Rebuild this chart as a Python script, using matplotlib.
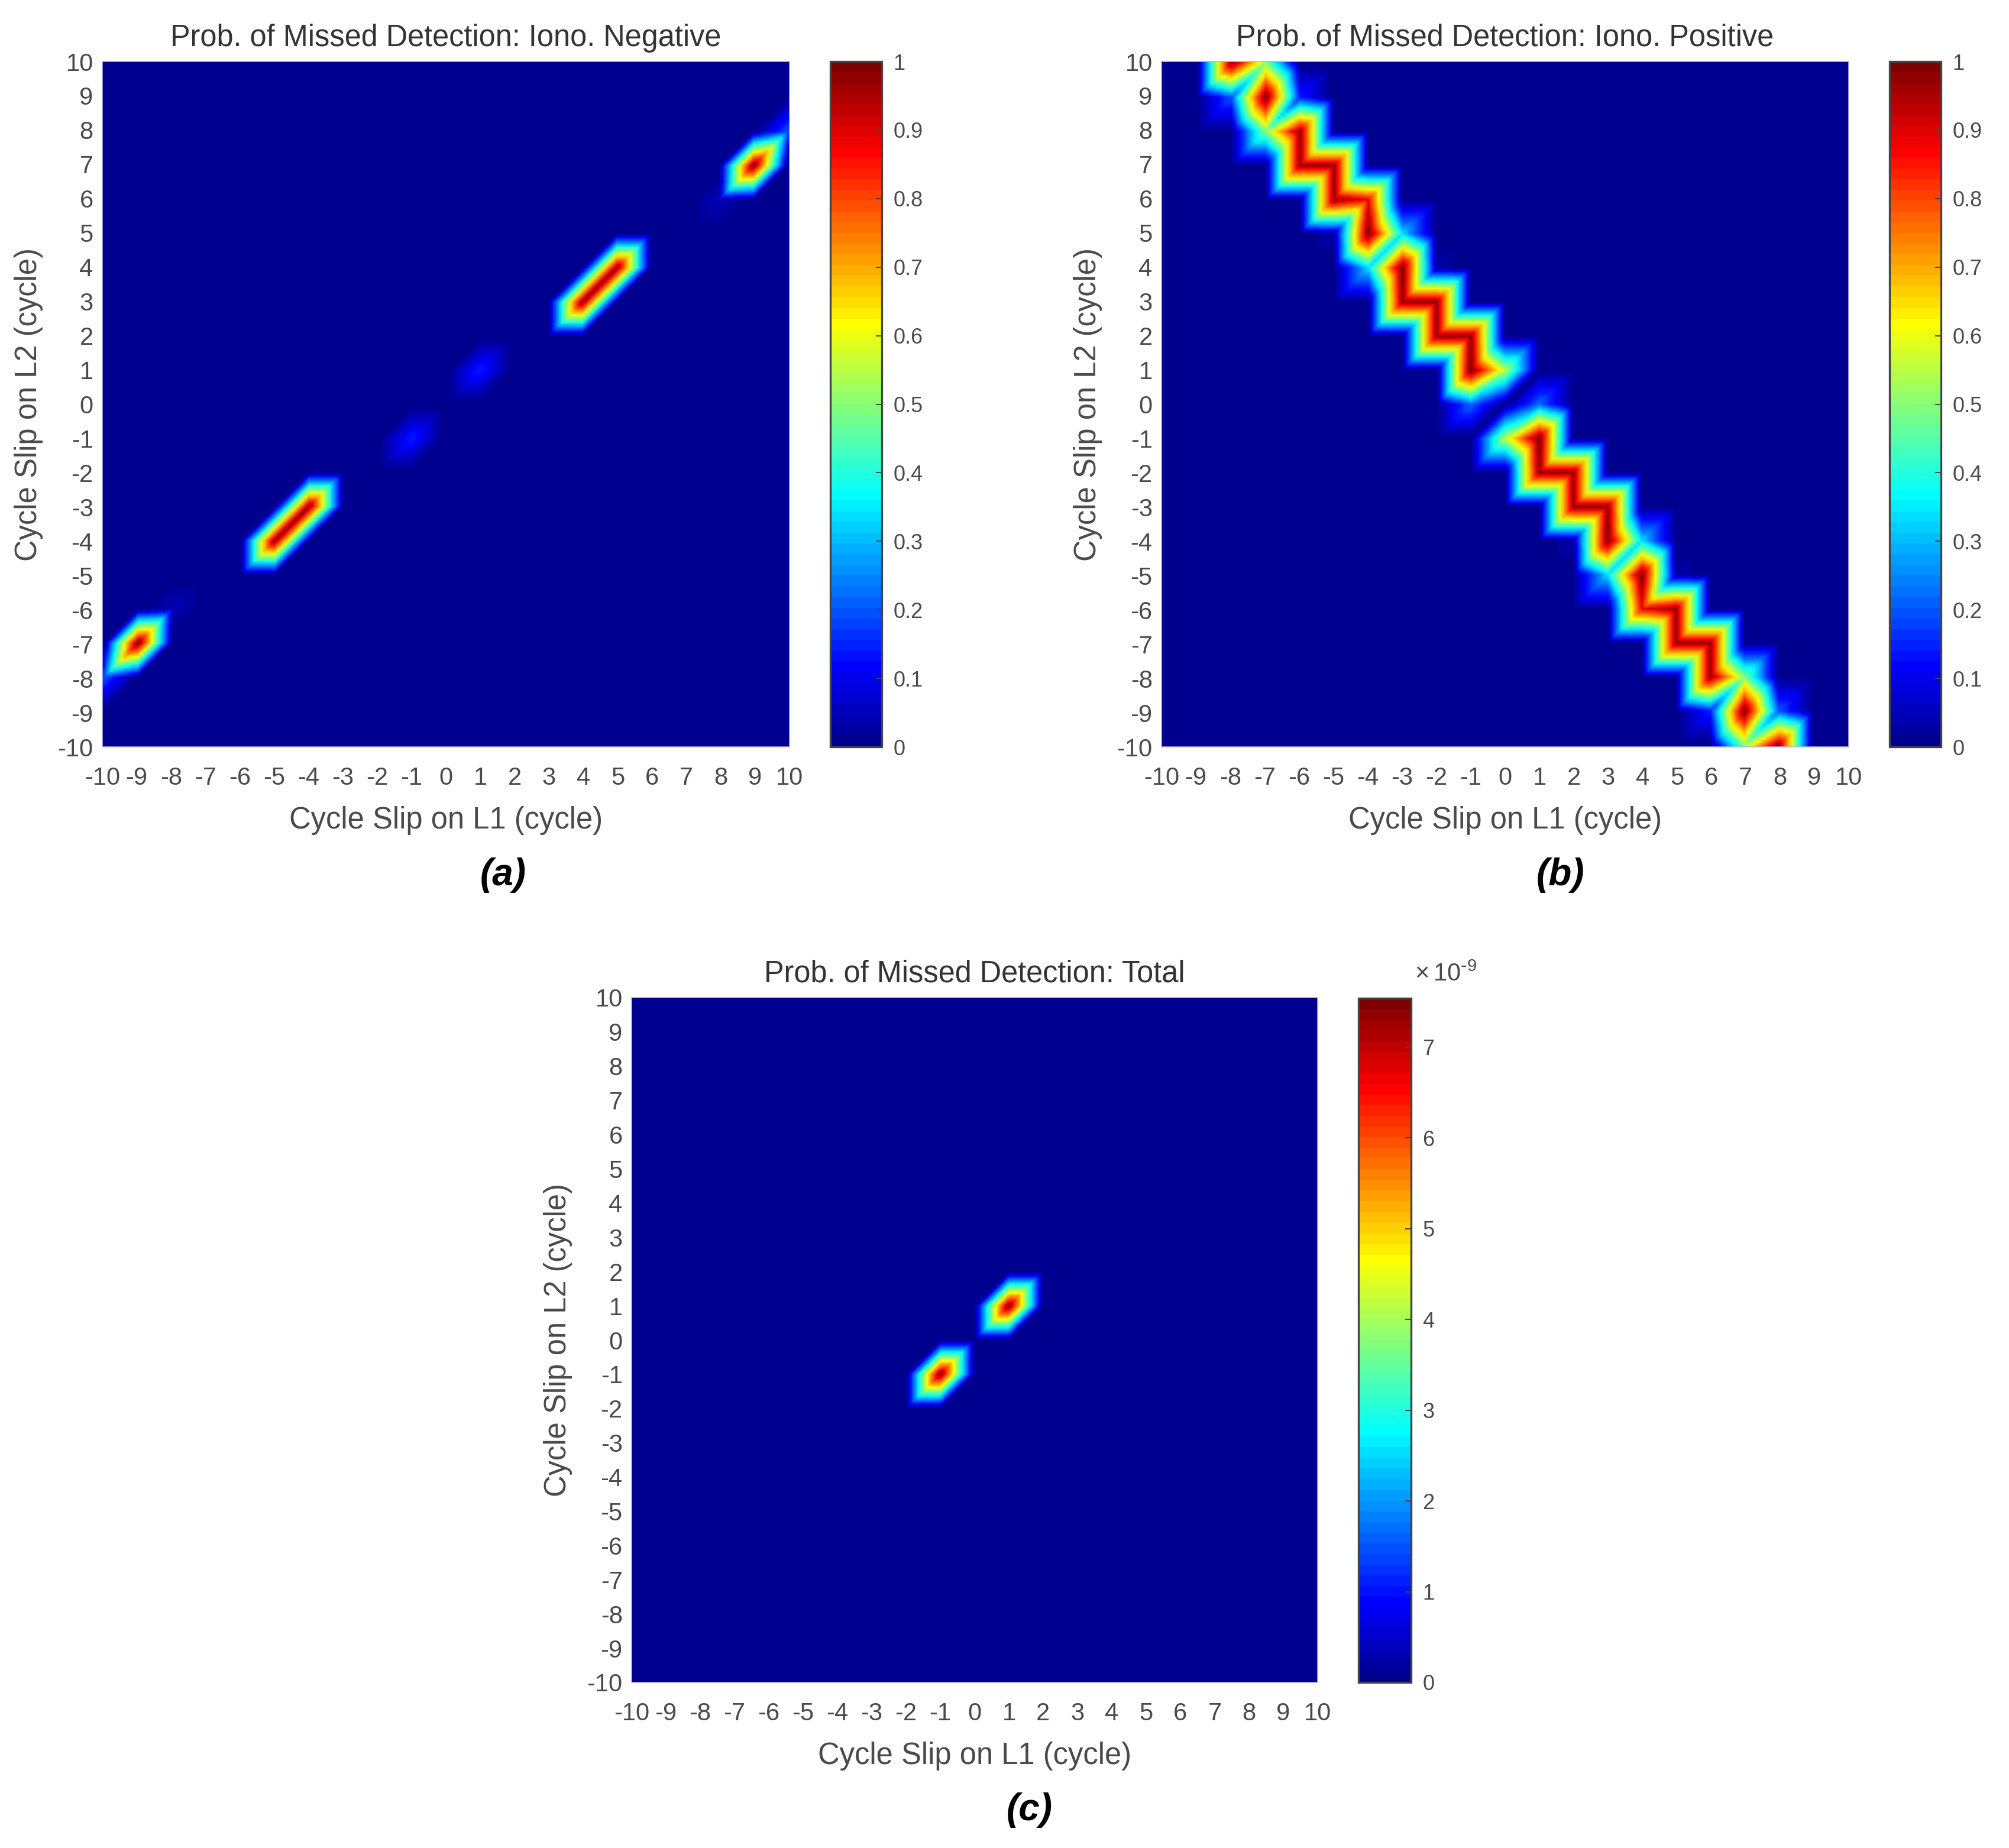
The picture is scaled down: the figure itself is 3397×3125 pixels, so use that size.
#!/usr/bin/env python3
"""
Missed detection probability maps over L1/L2 cycle slips:
  (a) iono negative, (b) iono positive, (c) total
"""
import numpy as np
import matplotlib
matplotlib.use("Agg")
import matplotlib.pyplot as plt
from matplotlib.colors import LinearSegmentedColormap
from matplotlib.tri import Triangulation, LinearTriInterpolator

plt.rcParams["font.family"] = ["Liberation Sans", "DejaVu Sans"]
plt.rcParams["mathtext.default"] = "regular"

W, H = 3397, 3125
TEXT = "#4a4a4a"

slips = list(range(-10, 11))
slip_labels = [str(s) for s in slips]

# non-zero nodes only, everything else on the grid is 0
neg_l1 = [-10, -9, -8, -5, -4, -1, 1, 4, 5, 8, 9, 10]
neg_l2 = [-8, -7, -6, -4, -3, -1, 1, 3, 4, 6, 7, 8]
neg_p = [0.2, 1.0, 0.05, 0.98, 0.98, 0.14, 0.14, 0.98, 0.98, 0.05, 1.0, 0.2]

pos_l1 = [-8, -7, -8, -7, -6, -7, -6, -6, -5, -5, -4, -4, -3, -4, -5, -2, -3, -3,
          -2, -2, -1, -1, 0, -1,
          1, 0, 1, 1, 2, 2, 3, 3, 4, 3, 2, 5, 4, 4, 5, 5, 6, 6, 7, 6, 7, 8, 7, 8]
pos_l2 = [10, 10, 9, 9, 9, 8, 8, 7, 7, 6, 6, 5, 5, 4, 5, 4, 4, 3,
          3, 2, 2, 1, 1, 0,
          0, -1, -1, -2, -2, -3, -3, -4, -4, -5, -4, -5, -5, -6, -6, -7, -7, -8, -8, -9, -9, -9, -10, -10]
pos_p = [0.97, 0.5, 0.2, 1.0, 0.14, 0.5, 0.97, 0.97, 0.97, 0.97, 0.88, 1.0, 0.33, 0.33, 0.03, 0.03, 1.0, 0.97,
         0.97, 0.97, 0.97, 1.0, 0.55, 0.22,
         0.22, 0.55, 1.0, 0.97, 0.97, 0.97, 0.97, 1.0, 0.33, 0.33, 0.03, 0.03, 1.0, 0.88,
         0.97, 0.97, 0.97, 0.97, 0.5, 0.14, 1.0, 0.2, 0.5, 0.97]

tot_l1 = [-1, 1]
tot_l2 = [-1, 1]
tot_p = [7.54e-9, 7.54e-9]

cbar_ticks_unit = [i / 10 for i in range(11)]
cbar_labels_unit = ["0", "0.1", "0.2", "0.3", "0.4", "0.5", "0.6", "0.7", "0.8", "0.9", "1"]
cbar_ticks_tot = [i * 1e-9 for i in range(8)]
cbar_labels_tot = ["0", "1", "2", "3", "4", "5", "6", "7"]

# MATLAB flavour of jet, 64 steps
jet64 = LinearSegmentedColormap.from_list(
    "matlab_jet",
    [(0.0, (0, 0, 0.5625)), (0.111, (0, 0, 1)), (0.365, (0, 1, 1)),
     (0.619, (1, 1, 0)), (0.873, (1, 0, 0)), (1.0, (0.5, 0, 0))],
    N=64,
)


def px_rect(left, top, right, bottom):
    return [left / W, 1 - bottom / H, (right - left) / W, (bottom - top) / H]


def surface(l1, l2, p, n):
    # interpolate on the two-triangle split so colours follow the colormap
    xx, yy = np.meshgrid(slips, slips)
    z = np.zeros(xx.shape)
    for a, b, v in zip(l1, l2, p):
        z[b + 10, a + 10] = v
    tris = []
    for j in range(20):
        for i in range(20):
            k = j * 21 + i
            tris.append([k, k + 1, k + 22])
            tris.append([k, k + 22, k + 21])
    tri = Triangulation(xx.ravel(), yy.ravel(), tris)
    fine = np.linspace(-10 + 1e-6, 10 - 1e-6, n)
    fx, fy = np.meshgrid(fine, fine)
    return LinearTriInterpolator(tri, z.ravel())(fx, fy).filled(0)


def panel(fig, rect, cbar_rect, l1, l2, p, vmax, title, ticks, labels, n):
    ax = fig.add_axes(px_rect(*rect))
    im = ax.imshow(surface(l1, l2, p, n), extent=(-10, 10, -10, 10), origin="lower",
                   aspect="auto", cmap=jet64, vmin=0, vmax=vmax,
                   interpolation="bilinear", interpolation_stage="rgba")
    ax.set_xticks(slips)
    ax.set_yticks(slips)
    ax.set_xticklabels(slip_labels)
    ax.set_yticklabels(slip_labels)
    ax.tick_params(axis="both", length=0, labelsize=30, labelcolor=TEXT)
    ax.tick_params(axis="x", pad=24)
    ax.tick_params(axis="y", pad=11)
    for s in ax.spines.values():
        s.set_color("#b4b4dc")
        s.set_linewidth(1.2)
    ax.set_title(title, fontsize=36.4, color="#333333", pad=19)
    ax.set_xlabel("Cycle Slip on L1 (cycle)", fontsize=36.5, color=TEXT)
    ax.set_ylabel("Cycle Slip on L2 (cycle)", fontsize=36.5, color=TEXT)
    ax.xaxis.set_label_coords(0.5, -0.086)
    ax.yaxis.set_label_coords(-0.086, 0.5)

    cax = fig.add_axes(px_rect(*cbar_rect))
    cb = fig.colorbar(im, cax=cax)
    cb.set_ticks(ticks)
    cb.set_ticklabels(labels)
    cb.ax.tick_params(length=7, width=1.4, direction="in", labelsize=26,
                      labelcolor=TEXT, color="#444444", pad=14)
    cb.outline.set_edgecolor("#444444")
    cb.outline.set_linewidth(2.4)
    return ax


def main():
    fig = plt.figure(figsize=(W / 100, H / 100), dpi=100)

    panel(fig, (173, 104, 1335, 1263), (1404, 104, 1491, 1263), neg_l1, neg_l2, neg_p, 1.0,
          "Prob. of Missed Detection: Iono. Negative", cbar_ticks_unit, cbar_labels_unit, 201)
    panel(fig, (1964, 104, 3126, 1263), (3195, 104, 3282, 1263), pos_l1, pos_l2, pos_p, 1.0,
          "Prob. of Missed Detection: Iono. Positive", cbar_ticks_unit, cbar_labels_unit, 201)
    panel(fig, (1068, 1687, 2228, 2845), (2297, 1688, 2386, 2845), tot_l1, tot_l2, tot_p, 7.54e-9,
          "Prob. of Missed Detection: Total", cbar_ticks_tot, cbar_labels_tot, 291)

    fig.text(2445 / W, 1 - 1648 / H, r"$\times\,10^{\text{-}9}$", fontsize=30, color=TEXT,
             ha="center", va="center")

    for lab, x, y in [("(a)", 851, 1480), ("(b)", 2638, 1480), ("(c)", 1741, 3061)]:
        fig.text(x / W, 1 - y / H, lab, fontsize=46, fontweight="bold", fontstyle="italic",
                 color="black", ha="center", va="center")

    fig.savefig("out.png", dpi=100)
    plt.close(fig)


if __name__ == "__main__":
    main()
